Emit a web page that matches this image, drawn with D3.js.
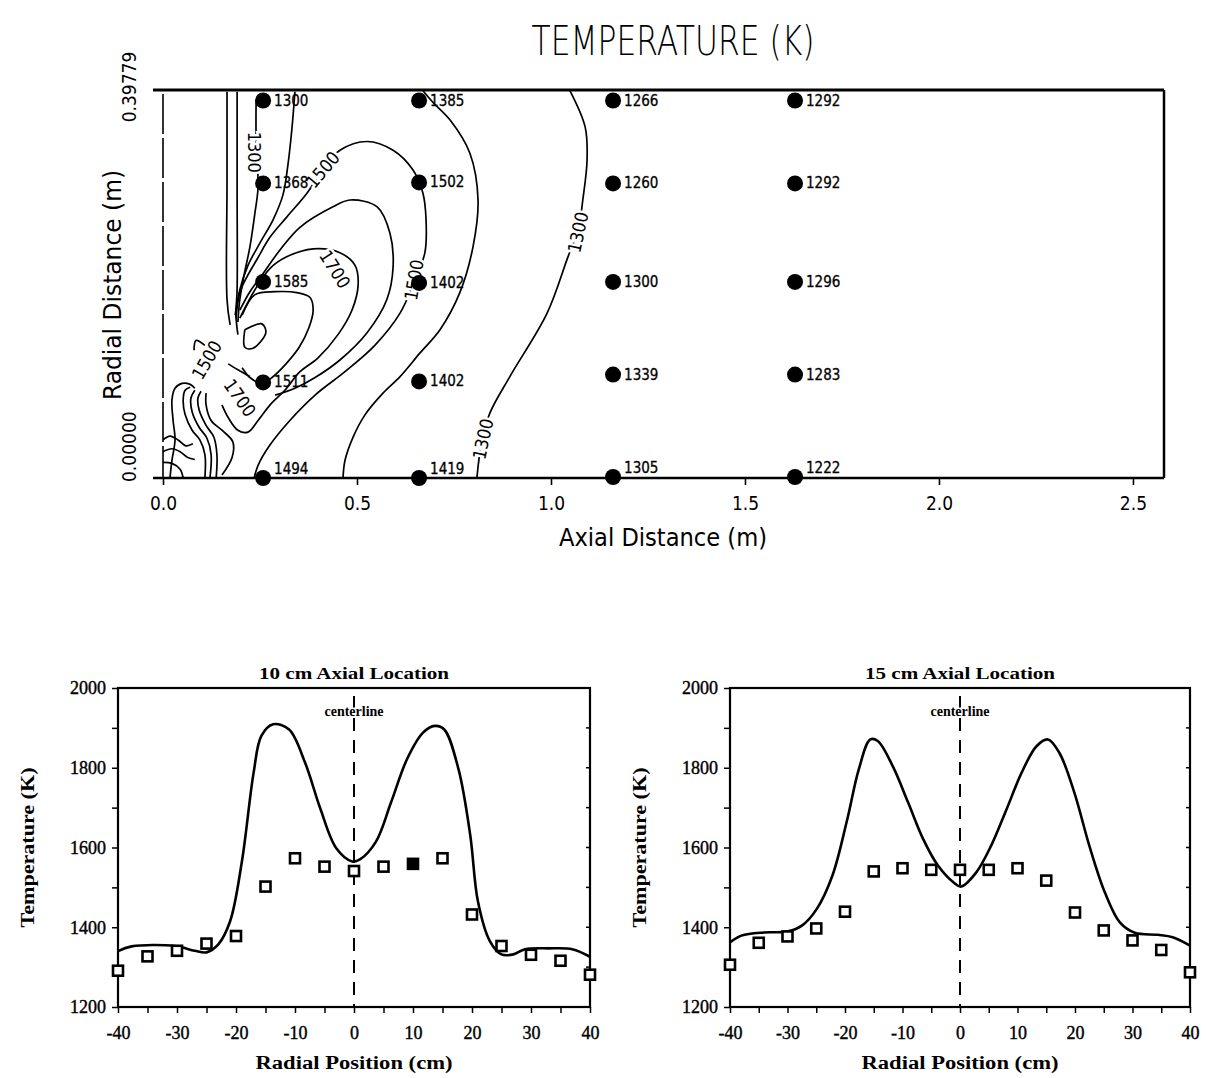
<!DOCTYPE html>
<html>
<head>
<meta charset="utf-8">
<script src="https://cdn.jsdelivr.net/npm/d3@7"></script>
<style>
  body { margin: 0; background: #fff; }
  svg text { fill: #000; }
</style>
</head>
<body>
<script>
// ---------- top panel: measuring stations ----------
var stationAxial = [0.258, 0.660, 1.160, 1.629];
var stationRadial = [
  [0.387, 0.302, 0.201, 0.098, 0.0],
  [0.387, 0.303, 0.200, 0.099, 0.0],
  [0.387, 0.302, 0.201, 0.106, 0.001],
  [0.387, 0.302, 0.201, 0.106, 0.001]
];
var stationTemps = [
  [1300, 1368, 1585, 1511, 1494],
  [1385, 1502, 1402, 1402, 1419],
  [1266, 1260, 1300, 1339, 1305],
  [1292, 1292, 1296, 1283, 1222]
];
var axialTicks = [0, 0.5, 1.0, 1.5, 2.0, 2.5];
var radialMax = 0.39779;
var axialMax = 2.58;

// ---------- top panel: contour lines [axial m, radial m] ----------
var contour1300 = [[1.049,0.397],[1.088,0.360],[1.093,0.326],[1.082,0.285],[1.070,0.254],[1.044,0.227],[0.990,0.169],[0.894,0.104],[0.843,0.067],[0.822,0.039],[0.809,0.0]];
var contour1400 = [[0.670,0.397],[0.696,0.385],[0.740,0.367],[0.791,0.333],[0.812,0.285],[0.799,0.237],[0.765,0.190],[0.714,0.152],[0.662,0.128],[0.611,0.104],[0.567,0.087],[0.521,0.065],[0.490,0.042],[0.469,0.018],[0.464,0.0]];
var contour1500 = [[0.188,0.164],[0.198,0.190],[0.216,0.206],[0.242,0.224],[0.276,0.247],[0.320,0.268],[0.371,0.292],[0.412,0.316],[0.456,0.336],[0.526,0.345],[0.593,0.336],[0.644,0.316],[0.670,0.292],[0.678,0.265],[0.675,0.231],[0.647,0.201],[0.611,0.169],[0.546,0.136],[0.469,0.109],[0.392,0.085],[0.327,0.059],[0.276,0.034],[0.245,0.013],[0.235,0.0]];
var contour1600 = [[0.198,0.172],[0.224,0.191],[0.255,0.208],[0.302,0.234],[0.353,0.257],[0.438,0.278],[0.482,0.285],[0.552,0.278],[0.585,0.251],[0.593,0.216],[0.577,0.183],[0.526,0.149],[0.456,0.121],[0.392,0.103],[0.340,0.092],[0.289,0.085]];
var contour1700 = [[0.198,0.164],[0.237,0.193],[0.276,0.215],[0.320,0.227],[0.387,0.235],[0.456,0.231],[0.495,0.218],[0.503,0.198],[0.487,0.172],[0.451,0.147],[0.399,0.123],[0.353,0.109],[0.314,0.090],[0.276,0.075],[0.245,0.059],[0.219,0.047],[0.193,0.049],[0.168,0.062],[0.152,0.075]];
var contour1800 = [[0.204,0.167],[0.237,0.188],[0.289,0.191],[0.345,0.190],[0.379,0.185],[0.387,0.172],[0.376,0.154],[0.351,0.134],[0.317,0.117],[0.281,0.103],[0.255,0.097],[0.224,0.103],[0.204,0.113]];
var contourPeak = [[0.211,0.152],[0.255,0.158],[0.265,0.149],[0.232,0.133],[0.211,0.134],[0.211,0.152]];
var contourHook = [[0.108,0.136],[0.085,0.141],[0.080,0.131]];
var contourDash = [[0.168,0.117],[0.193,0.111],[0.224,0.104]];
var fuelLine1 = [[0.165,0.396],[0.165,0.300],[0.165,0.183],[0.173,0.157]];
var fuelLine2 = [[0.191,0.396],[0.191,0.300],[0.191,0.193],[0.188,0.167],[0.193,0.147]];
var airLine1 = [[0.240,0.388],[0.240,0.347],[0.245,0.298],[0.237,0.272],[0.224,0.237],[0.209,0.208],[0.198,0.183],[0.193,0.160]];
var airLine2 = [[0.340,0.396],[0.332,0.357],[0.322,0.321],[0.309,0.290],[0.284,0.265],[0.250,0.241],[0.219,0.218],[0.198,0.193],[0.186,0.167]];
var jet1 = [[0.018,0.0],[0.023,0.018],[0.031,0.039],[0.026,0.059],[0.023,0.080],[0.031,0.092],[0.049,0.097],[0.070,0.096],[0.082,0.092]];
var jet2 = [[0.108,0.0],[0.108,0.024],[0.095,0.039],[0.075,0.049],[0.057,0.065],[0.052,0.080],[0.057,0.090],[0.070,0.093]];
var jet3 = [[0.121,0.0],[0.124,0.024],[0.113,0.041],[0.093,0.052],[0.075,0.068],[0.072,0.082],[0.082,0.090]];
var jet4 = [[0.137,0.0],[0.139,0.024],[0.131,0.042],[0.111,0.054],[0.093,0.070],[0.090,0.082],[0.098,0.089]];
var jet5 = [[0.152,0.003],[0.178,0.021],[0.180,0.037],[0.152,0.049],[0.124,0.059],[0.111,0.075],[0.111,0.087]];
var jet6 = [[0.0,0.039],[0.018,0.043],[0.039,0.039],[0.059,0.033],[0.077,0.035]];
var jet7 = [[0.0,0.027],[0.023,0.030],[0.044,0.027],[0.064,0.021],[0.082,0.019]];
var jet8 = [[0.0,0.016],[0.023,0.015],[0.044,0.009],[0.052,0.0]];

var contourLabels = [
  {text: "1300", at: [1.070, 0.252], angle: -78},
  {text: "1300", at: [0.825, 0.040], angle: -78},
  {text: "1300", at: [0.235, 0.334], angle: 90},
  {text: "1500", at: [0.412, 0.316], angle: -50},
  {text: "1500", at: [0.647, 0.203], angle: -80},
  {text: "1700", at: [0.443, 0.214], angle: 58},
  {text: "1500", at: [0.113, 0.121], angle: -60},
  {text: "1700", at: [0.198, 0.082], angle: 55}
];

// ---------- bottom panels ----------
var radialPos = [-40, -35, -30, -25, -20, -15, -10, -5, 0, 5, 10, 15, 20, 25, 30, 35, 40];
var measured10 = [1291, 1327, 1341, 1359, 1378, 1502, 1573, 1552, 1541, 1552, 1559, 1573, 1432, 1353, 1331, 1316, 1281];
var measured15 = [1306, 1361, 1377, 1397, 1439, 1540, 1548, 1544, 1544, 1544, 1548, 1517, 1437, 1392, 1367, 1343, 1287];
var model10X = [-40, -37.7, -30.3, -27, -25, -23, -21, -19, -17, -15.7, -13.7, -11, -8.3, -5.7, -3, -0.3, 1.0, 3.7, 6.3, 9, 11.7, 13.7, 15.3, 17.7, 19.7, 21, 23, 25, 27, 29, 33, 37, 40];
var model10T = [1340, 1352, 1353, 1341, 1337, 1357, 1415, 1565, 1789, 1880, 1909, 1896, 1813, 1697, 1598, 1565, 1570, 1614, 1714, 1822, 1888, 1905, 1896, 1797, 1631, 1465, 1366, 1332, 1332, 1345, 1347, 1345, 1326];
var model15X = [-40, -38, -34.1, -30.1, -27.5, -24.9, -22.2, -19.6, -17.6, -15.6, -14.3, -11.7, -9, -6.4, -3.8, -1.1, 0.2, 2.8, 5.4, 8.1, 10.7, 13.3, 15.3, 17.3, 19.9, 22.5, 25.2, 27.8, 30.4, 34.4, 37, 40];
var model15T = [1362, 1379, 1387, 1389, 1404, 1446, 1529, 1671, 1796, 1871, 1867, 1804, 1712, 1621, 1554, 1512, 1502, 1537, 1604, 1696, 1787, 1854, 1871, 1837, 1737, 1604, 1487, 1412, 1386, 1381, 1375, 1354];
var tempTicks = [1200, 1300, 1400, 1500, 1600, 1700, 1800, 1900, 2000];

var W = 1207, H = 1078;
var svg = d3.select("body").append("svg")
  .attr("width", W)
  .attr("height", H)
  .style("background", "#fff");

var sans = "'DejaVu Sans Condensed', 'DejaVu Sans', sans-serif";
var serif = "'Liberation Serif', 'DejaVu Serif', serif";

// ================= top contour panel =================
var xTop = d3.scaleLinear().domain([0, axialMax]).range([163, 1164]);
var yTop = d3.scaleLinear().domain([0, radialMax]).range([478, 90]);

var topPanel = svg.append("g");

topPanel.append("text")
  .attr("x", 673).attr("y", 55)
  .attr("text-anchor", "middle")
  .attr("font-family", "'DejaVu Sans', sans-serif")
  .attr("font-size", 40)
  .attr("font-weight", 200)
  .attr("textLength", 283)
  .attr("lengthAdjust", "spacingAndGlyphs")
  .text("TEMPERATURE (K)");

topPanel.append("clipPath").attr("id", "plotClip")
  .append("rect")
  .attr("x", xTop(0)).attr("y", yTop(radialMax))
  .attr("width", xTop(axialMax) - xTop(0))
  .attr("height", yTop(0) - yTop(radialMax));

var contourLine = d3.line()
  .x(function (d) { return xTop(d[0]); })
  .y(function (d) { return yTop(d[1]); })
  .curve(d3.curveCatmullRom.alpha(0.5));

var allContours = [contour1300, contour1400, contour1500, contour1600, contour1700, contour1800,
  contourPeak, contourHook, contourDash, fuelLine1, fuelLine2, airLine1, airLine2,
  jet1, jet2, jet3, jet4, jet5, jet6, jet7, jet8];

topPanel.append("g")
  .attr("clip-path", "url(#plotClip)")
  .selectAll("path")
  .data(allContours)
  .enter().append("path")
  .attr("d", contourLine)
  .attr("fill", "none")
  .attr("stroke", "#000")
  .attr("stroke-width", 1.7)
  .attr("stroke-linejoin", "round");

topPanel.append("g").selectAll("text")
  .data(contourLabels)
  .enter().append("text")
  .attr("transform", function (d) {
    return "translate(" + xTop(d.at[0]) + "," + yTop(d.at[1]) + ") rotate(" + d.angle + ")";
  })
  .attr("text-anchor", "middle")
  .attr("dy", "0.35em")
  .attr("font-family", sans)
  .attr("font-size", 18)
  .attr("stroke", "#fff")
  .attr("stroke-width", 5)
  .attr("paint-order", "stroke")
  .text(function (d) { return d.text; });

// frame
var x0 = xTop(0), x1 = xTop(axialMax), y0 = yTop(0), y1 = yTop(radialMax);
topPanel.append("line").attr("x1", x0 - 10).attr("x2", x1).attr("y1", y1).attr("y2", y1)
  .attr("stroke", "#000").attr("stroke-width", 3);
topPanel.append("line").attr("x1", x0 - 10).attr("x2", x1).attr("y1", y0).attr("y2", y0)
  .attr("stroke", "#000").attr("stroke-width", 2.5);
topPanel.append("line").attr("x1", x1).attr("x2", x1).attr("y1", y1).attr("y2", y0)
  .attr("stroke", "#000").attr("stroke-width", 2.5);
topPanel.append("line").attr("x1", x0).attr("x2", x0).attr("y1", y1 + 4).attr("y2", y0)
  .attr("stroke", "#000").attr("stroke-width", 1.6)
  .attr("stroke-dasharray", "40,4");

// x axis
var xAxisTop = topPanel.append("g")
  .attr("transform", "translate(0," + y0 + ")")
  .call(d3.axisBottom(xTop).tickValues(axialTicks).tickSize(7).tickPadding(12)
    .tickFormat(d3.format(".1f")));
xAxisTop.select(".domain").remove();
xAxisTop.selectAll("line").attr("stroke-width", 1.6);
xAxisTop.selectAll("text")
  .attr("font-family", sans)
  .attr("font-size", 19);

topPanel.append("text")
  .attr("x", 663).attr("y", 546)
  .attr("text-anchor", "middle")
  .attr("font-family", sans)
  .attr("font-size", 25)
  .attr("textLength", 208)
  .attr("lengthAdjust", "spacingAndGlyphs")
  .text("Axial Distance (m)");

// y labels (rotated)
topPanel.append("text")
  .attr("transform", "translate(136," + (y1 - 3) + ") rotate(-90)")
  .attr("text-anchor", "middle")
  .attr("font-family", sans)
  .attr("font-size", 19)
  .text(d3.format(".5f")(radialMax));
topPanel.append("text")
  .attr("transform", "translate(136," + (y0 + 4) + ") rotate(-90)")
  .attr("text-anchor", "start")
  .attr("font-family", sans)
  .attr("font-size", 19)
  .text(d3.format(".5f")(0));
topPanel.append("text")
  .attr("transform", "translate(121,285) rotate(-90)")
  .attr("text-anchor", "middle")
  .attr("font-family", sans)
  .attr("font-size", 25)
  .attr("textLength", 230)
  .attr("lengthAdjust", "spacingAndGlyphs")
  .text("Radial Distance (m)");

// station dots + values
var stations = [];
stationAxial.forEach(function (ax, i) {
  stationRadial[i].forEach(function (r, j) {
    stations.push({x: ax, r: r, t: stationTemps[i][j], bottom: r < 0.01});
  });
});

var st = topPanel.append("g").selectAll("g")
  .data(stations)
  .enter().append("g")
  .attr("transform", function (d) { return "translate(" + xTop(d.x) + "," + yTop(d.r) + ")"; });
st.append("circle").attr("r", 8).attr("fill", "#000");
st.append("text")
  .attr("x", 11)
  .attr("y", function (d) { return d.bottom ? -4 : 5; })
  .attr("font-family", sans)
  .attr("font-size", 15)
  .attr("stroke", "#000").attr("stroke-width", 0.3)
  .text(function (d) { return d.t; });

// ================= bottom profile panels =================
function drawProfile(cfg) {
  var g = svg.append("g");
  var x = d3.scaleLinear().domain([-40, 40]).range([cfg.left, cfg.right]);
  var y = d3.scaleLinear().domain([1200, 2000]).range([cfg.bottom, cfg.top]);

  // frame
  g.append("rect")
    .attr("x", cfg.left).attr("y", cfg.top)
    .attr("width", cfg.right - cfg.left).attr("height", cfg.bottom - cfg.top)
    .attr("fill", "none").attr("stroke", "#000").attr("stroke-width", 2.2);

  var xa = g.append("g")
    .attr("transform", "translate(0," + cfg.bottom + ")")
    .call(d3.axisBottom(x).tickValues(radialPos).tickSize(6).tickPadding(13)
      .tickFormat(function (d) { return d % 10 === 0 ? String(d) : ""; }));
  xa.select(".domain").remove();
  xa.selectAll("line").attr("stroke-width", 1.5);
  xa.selectAll("text").attr("font-family", serif).attr("font-size", 18)
    .attr("stroke", "#000").attr("stroke-width", 0.4);

  var ya = g.append("g")
    .attr("transform", "translate(" + cfg.left + ",0)")
    .call(d3.axisLeft(y).tickValues(tempTicks).tickSize(6).tickPadding(6)
      .tickFormat(function (d) { return d % 200 === 0 ? String(d) : ""; }));
  ya.select(".domain").remove();
  ya.selectAll("line").attr("stroke-width", 1.5);
  ya.selectAll("text").attr("font-family", serif).attr("font-size", 18)
    .attr("stroke", "#000").attr("stroke-width", 0.4);

  // right-side inner ticks
  g.append("g").selectAll("line")
    .data(tempTicks)
    .enter().append("line")
    .attr("x1", cfg.right).attr("x2", cfg.right - 4)
    .attr("y1", function (d) { return y(d); }).attr("y2", function (d) { return y(d); })
    .attr("stroke", "#000").attr("stroke-width", 1.5);

  // centerline
  g.append("line")
    .attr("x1", x(0)).attr("x2", x(0))
    .attr("y1", cfg.top + 8).attr("y2", cfg.bottom)
    .attr("stroke", "#000").attr("stroke-width", 2)
    .attr("stroke-dasharray", "13,9");
  g.append("text")
    .attr("x", x(0)).attr("y", cfg.top + 28)
    .attr("text-anchor", "middle")
    .attr("font-family", serif).attr("font-weight", "bold")
    .attr("font-size", 14)
    .attr("stroke", "#fff").attr("stroke-width", 3).attr("paint-order", "stroke")
    .text("centerline");

  // model curve
  var pts = cfg.modelX.map(function (v, i) { return [v, cfg.modelT[i]]; });
  g.append("path")
    .datum(pts)
    .attr("d", d3.line()
      .x(function (d) { return x(d[0]); })
      .y(function (d) { return y(d[1]); })
      .curve(d3.curveCatmullRom.alpha(0.5)))
    .attr("fill", "none").attr("stroke", "#000").attr("stroke-width", 2.6);

  // measured squares
  var meas = radialPos.map(function (v, i) { return {x: v, t: cfg.measured[i]}; });
  g.append("g").selectAll("rect")
    .data(meas)
    .enter().append("rect")
    .attr("x", function (d) { return x(d.x) - 5; })
    .attr("y", function (d) { return y(d.t) - 5; })
    .attr("width", 10).attr("height", 10)
    .attr("fill", function (d) { return cfg.filledAt === d.x ? "#000" : "#fff"; })
    .attr("stroke", "#000").attr("stroke-width", 2.6);

  // titles
  g.append("text")
    .attr("x", (cfg.left + cfg.right) / 2).attr("y", cfg.top - 9)
    .attr("text-anchor", "middle")
    .attr("font-family", serif).attr("font-weight", "bold").attr("font-size", 17)
    .attr("textLength", 190).attr("lengthAdjust", "spacingAndGlyphs")
    .text(cfg.title);
  g.append("text")
    .attr("x", x(0)).attr("y", cfg.bottom + 62)
    .attr("text-anchor", "middle")
    .attr("font-family", serif).attr("font-weight", "bold").attr("font-size", 18)
    .attr("textLength", 197).attr("lengthAdjust", "spacingAndGlyphs")
    .text("Radial Position (cm)");
  g.append("text")
    .attr("transform", "translate(" + (cfg.left - 84) + "," + ((cfg.top + cfg.bottom) / 2) + ") rotate(-90)")
    .attr("text-anchor", "middle")
    .attr("font-family", serif).attr("font-weight", "bold").attr("font-size", 18)
    .attr("textLength", 160).attr("lengthAdjust", "spacingAndGlyphs")
    .text("Temperature (K)");
}

drawProfile({
  left: 118, right: 590, top: 688, bottom: 1007,
  title: "10 cm Axial Location",
  modelX: model10X, modelT: model10T,
  measured: measured10, filledAt: 10
});
drawProfile({
  left: 730, right: 1190, top: 688, bottom: 1007,
  title: "15 cm Axial Location",
  modelX: model15X, modelT: model15T,
  measured: measured15, filledAt: null
});
</script>
</body>
</html>
